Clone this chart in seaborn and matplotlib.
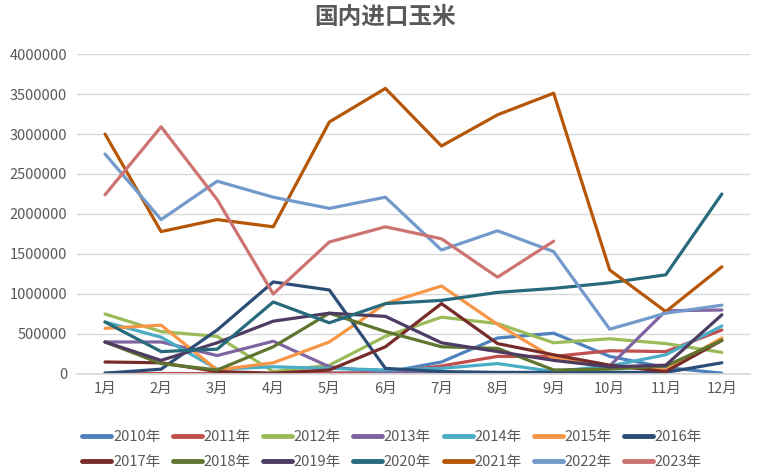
import numpy as np
import pandas as pd
import matplotlib
matplotlib.use("Agg")
import matplotlib.pyplot as plt
import seaborn as sns
from matplotlib.lines import Line2D

months = ["1月", "2月", "3月", "4月", "5月", "6月", "7月", "8月", "9月", "10月", "11月", "12月"]
years = ["2010年", "2011年", "2012年", "2013年", "2014年", "2015年", "2016年",
         "2017年", "2018年", "2019年", "2020年", "2021年", "2022年", "2023年"]

y2010 = [10000, 5000, 5000, 5000, 10000, 20000, 150000, 450000, 510000, 220000, 80000, 10000]
y2011 = [5000, 5000, 5000, 5000, 10000, 10000, 100000, 220000, 220000, 290000, 280000, 550000]
y2012 = [750000, 530000, 470000, 30000, 110000, 470000, 710000, 630000, 390000, 440000, 380000, 270000]
y2013 = [400000, 400000, 230000, 410000, 90000, 20000, 10000, 10000, 10000, 100000, 790000, 800000]
y2014 = [650000, 460000, 60000, 90000, 70000, 50000, 70000, 130000, 30000, 100000, 240000, 600000]
y2015 = [570000, 610000, 50000, 140000, 400000, 880000, 1100000, 620000, 200000, 100000, 50000, 450000]
y2016 = [10000, 60000, 550000, 1150000, 1050000, 70000, 30000, 20000, 20000, 20000, 20000, 140000]
y2017 = [150000, 140000, 30000, 10000, 50000, 340000, 880000, 380000, 240000, 110000, 30000, 420000]
y2018 = [400000, 130000, 50000, 340000, 760000, 530000, 340000, 320000, 50000, 60000, 100000, 420000]
y2019 = [400000, 170000, 390000, 660000, 760000, 720000, 390000, 280000, 170000, 90000, 110000, 740000]
y2020 = [650000, 280000, 310000, 900000, 640000, 880000, 920000, 1020000, 1070000, 1140000, 1240000, 2250000]
y2021 = [3000000, 1780000, 1930000, 1840000, 3150000, 3570000, 2850000, 3240000, 3510000, 1300000, 780000, 1340000]
y2022 = [2750000, 1930000, 2410000, 2210000, 2070000, 2210000, 1550000, 1790000, 1530000, 560000, 760000, 860000]
y2023 = [2240000, 3090000, 2180000, 1000000, 1650000, 1840000, 1690000, 1210000, 1660000, np.nan, np.nan, np.nan]

series = [y2010, y2011, y2012, y2013, y2014, y2015, y2016,
          y2017, y2018, y2019, y2020, y2021, y2022, y2023]

colors = ["#4F81BD", "#C0504D", "#9BBB59", "#8064A2", "#4BACC6", "#F79646", "#2C4D75",
          "#772C2A", "#5F7530", "#4D3B62", "#276A7C", "#B65708", "#729ACA", "#CD7371"]

rows = []
for yr, vals in zip(years, series):
    for i, v in enumerate(vals):
        rows.append({"年份": yr, "月": i, "进口量": v})
df = pd.DataFrame(rows)

sns.set_theme(style="white")
plt.rcParams["font.family"] = ["Noto Sans CJK SC", "DejaVu Sans"]

fig = plt.figure(figsize=(7.66, 4.68), dpi=100)
ax = fig.add_axes([0.1005, 0.2009, 0.8785, 0.6837])

sns.lineplot(data=df, x="月", y="进口量", hue="年份", hue_order=years,
             palette=colors, linewidth=2.3, ax=ax, legend=False, sort=False)

ax.set_xlim(-0.5, 11.5)
ax.set_ylim(0, 4000000)
ax.set_yticks(np.arange(0, 4000001, 500000))
ax.set_yticklabels([f"{int(v)}" for v in np.arange(0, 4000001, 500000)])
ax.set_xticks(range(12))
ax.set_xticklabels(months)
ax.tick_params(axis="both", labelsize=10.5, colors="#595959", length=0, pad=6)
ax.tick_params(axis="y", pad=7)
ax.grid(axis="y", color="#D9D9D9", linewidth=1)
ax.set_axisbelow(True)
for s in ["top", "right", "left"]:
    ax.spines[s].set_visible(False)
ax.spines["bottom"].set_color("#D9D9D9")
ax.set_xlabel("")
ax.set_ylabel("")

fig.text(0.503, 0.965, "国内进口玉米", ha="center", va="center",
         fontsize=17, fontweight="bold", color="#595959")

# legend laid out row by row (matplotlib fills columns first)
order = []
for c in range(7):
    order += [c, c + 7]
handles = [Line2D([0], [0], color=colors[i], linewidth=3.5) for i in order]
labels = [years[i] for i in order]
leg = fig.legend(handles, labels, loc="lower center", bbox_to_anchor=(0.512, -0.03),
                 ncol=7, frameon=False, fontsize=10.5, handlelength=2.0,
                 handletextpad=0.1, columnspacing=0.85, labelspacing=0.75)
for t in leg.get_texts():
    t.set_color("#595959")

fig.savefig("out.png", dpi=100)
